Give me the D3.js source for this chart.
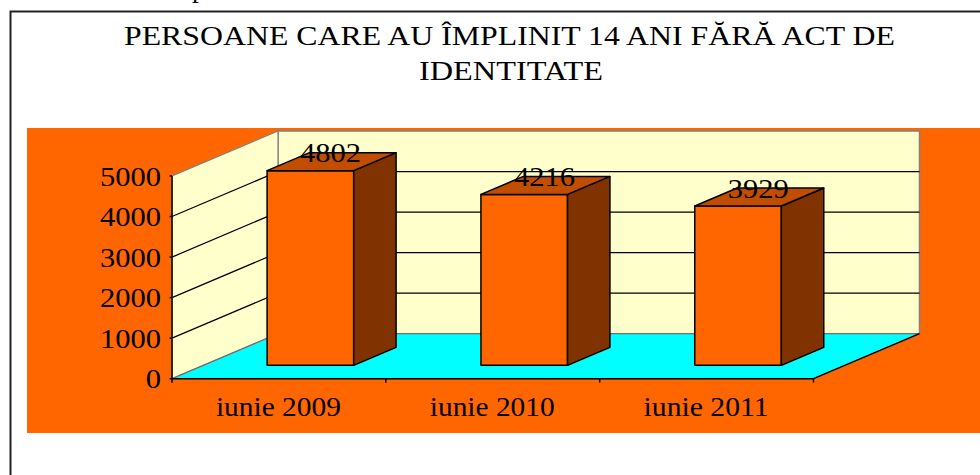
<!DOCTYPE html>
<html><head><meta charset="utf-8">
<script src="https://cdn.jsdelivr.net/npm/d3@7/dist/d3.min.js"></script>
<style>html,body{margin:0;padding:0;background:#fff}svg{display:block}text{font-family:"Liberation Serif",serif;fill:#000}</style>
</head><body>
<svg id="c" width="980" height="475"></svg>
<script>
const categories = ["iunie 2009","iunie 2010","iunie 2011"];
const values = [4802,4216,3929];
const yTicks = [0,1000,2000,3000,4000,5000];
const titleLines = ["PERSOANE CARE AU ÎMPLINIT 14 ANI FĂRĂ ACT DE","IDENTITATE"];

const svg = d3.select("#c");
const x = d3.scaleBand().domain(categories).range([172,813.5]).paddingInner(0).paddingOuter(0);
const y = d3.scaleLinear().domain([0,5000]).range([378.7,176]);
const depthX = d3.scaleLinear().domain([0,1]).range([0,106]);
const depthY = d3.scaleLinear().domain([0,1]).range([0,-45]);
const pt = (px,py,d)=>[px+depthX(d),py+depthY(d)];
const poly = pts=>"M"+pts.map(p=>p.join(",")).join("L")+"Z";
const line = (a,b)=>"M"+a.join(",")+"L"+b.join(",");
const X0=x.range()[0], X1=x.range()[1], Y0=y(0), Y5=y(5000);

// frame and background
svg.append("text").attr("x",192).attr("y",-3).attr("font-size",27).text("p");
svg.append("path").attr("d","M10.5,475V11.5H980").attr("fill","none").attr("stroke","#222").attr("stroke-width",2);
svg.append("rect").attr("x",27).attr("y",128).attr("width",953).attr("height",305).attr("fill","#FF6600");

// title
const titleSpec=[[124,771,45],[419,184,80]];
svg.selectAll(".t").data(titleLines).join("text").attr("class","t")
  .attr("x",(d,i)=>titleSpec[i][0]).attr("y",(d,i)=>titleSpec[i][2])
  .attr("font-size",27.5).attr("textLength",(d,i)=>titleSpec[i][1]).attr("lengthAdjust","spacingAndGlyphs").text(d=>d);

// walls and floor
svg.append("path").attr("d",poly([pt(X0,Y0,1),pt(X1,Y0,1),pt(X1,Y5,1),pt(X0,Y5,1)])).attr("fill","#FFFFCC").attr("stroke","#808080").attr("stroke-width",1.5);
svg.append("path").attr("d",poly([pt(X0,Y0,0),pt(X0,Y5,0),pt(X0,Y5,1),pt(X0,Y0,1)])).attr("fill","#FFFFCC").attr("stroke","#808080").attr("stroke-width",1.2);
svg.append("path").attr("d",poly([pt(X0,Y0,0),pt(X1,Y0,0),pt(X1,Y0,1),pt(X0,Y0,1)])).attr("fill","#00FFFF").attr("stroke","#707070").attr("stroke-width",1.3);
svg.append("path").attr("d",line(pt(X1,Y0,0),pt(X1,Y0,1))).attr("stroke","#000").attr("stroke-width",1.3);

// gridlines
yTicks.filter(t=>t>0&&t<5000).forEach(t=>{
  svg.append("path").attr("d",line(pt(X0,y(t),0),pt(X0,y(t),1))+line(pt(X0,y(t),1),pt(X1,y(t),1))).attr("fill","none").attr("stroke","#000").attr("stroke-width",1.25);
});

// bars
const frontD=0.297, backD=0.697, barFrac=0.405;
const tone={front:"#FF6600",top:"#C04D00",side:"#803300"};
const bars=svg.selectAll(".bar").data(values).join("g").attr("class","bar");
bars.each(function(v,i){
  const g=d3.select(this);
  const c=x(categories[i])+x.bandwidth()/2, w=x.bandwidth()*barFrac;
  const l=c-w/2, r=c+w/2, b=y(0), t=y(v);
  const attrs={stroke:"#000","stroke-width":1.5,"stroke-linejoin":"round"};
  const draw=(pts,f)=>{const p=g.append("path").attr("d",poly(pts)).attr("fill",f);Object.entries(attrs).forEach(([k,a])=>p.attr(k,a));};
  draw([pt(l,b,frontD),pt(r,b,frontD),pt(r,t,frontD),pt(l,t,frontD)],tone.front);
  draw([pt(r,b,frontD),pt(r,b,backD),pt(r,t,backD),pt(r,t,frontD)],tone.side);
  draw([pt(l,t,frontD),pt(r,t,frontD),pt(r,t,backD),pt(l,t,backD)],tone.top);
});

// axes
const axisG=svg.append("g").attr("stroke","#000").attr("stroke-width",1.5).attr("fill","none");
axisG.append("path").attr("d",line([X0,Y5],[X0,Y0])+line([X0,Y0],[X1,Y0]));
yTicks.forEach(t=>axisG.append("path").attr("d",line([X0-2.5,y(t)],[X0,y(t)])));
[0,1,2,3].forEach(i=>{const px=X0+i*x.step();axisG.append("path").attr("d",line([px,Y0],[px,Y0+4]));});

const numW=d=>String(d).length*15.25;
svg.selectAll(".yl").data(yTicks).join("text").attr("class","yl")
  .attr("x",d=>161-numW(d)).attr("y",d=>y(d)+9.5).attr("font-size",27.5)
  .attr("textLength",numW).attr("lengthAdjust","spacingAndGlyphs").text(d=>d);
svg.selectAll(".xl").data(categories).join("text").attr("class","xl")
  .attr("x",d=>x(d)+x.bandwidth()/2-63).attr("y",416).attr("font-size",27.5)
  .attr("textLength",125).attr("lengthAdjust","spacingAndGlyphs").text(d=>d);
svg.selectAll(".v").data(values).join("text").attr("class","v")
  .attr("x",(d,i)=>{const c=x(categories[i])+x.bandwidth()/2;return c+depthX((frontD+backD)/2)-31.5;})
  .attr("y",d=>y(d)+depthY((frontD+backD)/2)+0.7).attr("font-size",27.5)
  .attr("textLength",61).attr("lengthAdjust","spacingAndGlyphs").text(d=>d);
</script>
</body></html>
